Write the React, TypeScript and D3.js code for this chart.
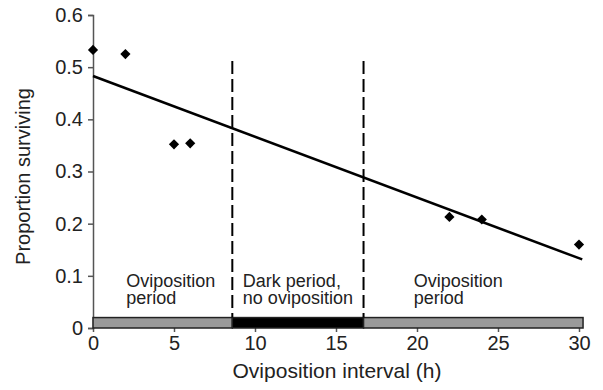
import { useEffect, useRef } from "react";
import * as d3 from "d3";

// observed points
const hours = [0, 2, 5, 6, 22, 24, 30];
const surviving = [0.533, 0.525, 0.352, 0.354, 0.213, 0.208, 0.16];

// periods along the bottom bar: [start, end, dark?]
const periodStart = [0, 8.6, 16.7];
const periodEnd = [8.6, 16.7, 30.25];
const periodDark = [false, true, false];
const periodLabels = [
  ["Oviposition", "period"],
  ["Dark period,", "no oviposition"],
  ["Oviposition", "period"],
];
const labelAt = [2.05, 9.25, 19.8];

const xTicks = [0, 5, 10, 15, 20, 25, 30];
const yTicks = [0, 0.1, 0.2, 0.3, 0.4, 0.5, 0.6];

const W = 603;
const H = 390;
const FONT = "Liberation Sans, Arial, Helvetica, sans-serif";

function App() {
  const svgRef = useRef<SVGSVGElement>(null);

  useEffect(() => {
    const svg = d3.select(svgRef.current);
    svg.selectAll("*").remove();

    const x = d3.scaleLinear().domain([0, 30]).range([93, 579]);
    const y = d3.scaleLinear().domain([0, 0.6]).range([328, 15]);

    // least squares fit
    const mx = d3.mean(hours)!;
    const my = d3.mean(surviving)!;
    const sxy = d3.sum(hours, (h, i) => (h - mx) * (surviving[i] - my));
    const sxx = d3.sum(hours, (h) => (h - mx) ** 2);
    const slope = sxy / sxx;
    const icpt = my - slope * mx;

    // y axis
    const yAxis = svg
      .append("g")
      .attr("transform", `translate(${x(0)},0)`)
      .call(
        d3
          .axisLeft(y)
          .tickValues(yTicks)
          .tickSize(5)
          .tickPadding(5)
          .tickFormat((d) => (d === 0 ? "0" : d3.format(".1f")(d as number)))
      );
    yAxis.select(".domain").attr("stroke", "#555").attr("stroke-width", 1.5);
    yAxis.selectAll("line").attr("stroke", "#555").attr("stroke-width", 1.5);
    yAxis
      .selectAll("text")
      .attr("font-family", FONT)
      .attr("font-size", 20)
      .attr("fill", "#222");

    // x axis
    const xAxis = svg
      .append("g")
      .attr("transform", `translate(0,${y(0)})`)
      .call(
        d3.axisBottom(x).tickValues(xTicks).tickSize(4).tickPadding(4).tickSizeOuter(0)
      );
    xAxis.select(".domain").remove();
    xAxis.selectAll("line").attr("stroke", "#555").attr("stroke-width", 1.5);
    xAxis
      .selectAll("text")
      .attr("font-family", FONT)
      .attr("font-size", 20)
      .attr("fill", "#222");

    // period bar
    const barTop = y(0.02);
    svg
      .append("g")
      .selectAll("rect")
      .data(periodStart)
      .join("rect")
      .attr("x", (d) => x(d))
      .attr("y", barTop)
      .attr("width", (d, i) => x(periodEnd[i]) - x(d))
      .attr("height", y(0) - barTop)
      .attr("fill", (_, i) => (periodDark[i] ? "#000" : "#9a9a9a"))
      .attr("stroke", "#222")
      .attr("stroke-width", 1.5);

    // dashed separators
    svg
      .append("g")
      .selectAll("line")
      .data(periodStart.slice(1))
      .join("line")
      .attr("x1", (d) => x(d))
      .attr("x2", (d) => x(d))
      .attr("y1", 61)
      .attr("y2", barTop)
      .attr("stroke", "#000")
      .attr("stroke-width", 2)
      .attr("stroke-dasharray", "13,5");

    // period labels
    const lab = svg
      .append("g")
      .selectAll("text")
      .data(periodLabels)
      .join("text")
      .attr("x", (_, i) => x(labelAt[i]))
      .attr("y", 287)
      .attr("font-family", FONT)
      .attr("font-size", 18)
      .attr("fill", "#222");
    lab
      .selectAll("tspan")
      .data((d) => d)
      .join("tspan")
      .attr("x", function () {
        return (this.parentNode as SVGTextElement).getAttribute("x");
      })
      .attr("dy", (_, j) => (j === 0 ? 0 : 17))
      .text((d) => d);

    // regression line
    svg
      .append("line")
      .attr("x1", x(0))
      .attr("y1", y(icpt))
      .attr("x2", x(30.2))
      .attr("y2", y(icpt + slope * 30.2))
      .attr("stroke", "#000")
      .attr("stroke-width", 2.5);

    // points
    svg
      .append("g")
      .selectAll("path")
      .data(hours)
      .join("path")
      .attr("d", d3.symbol(d3.symbolSquare, 52)())
      .attr(
        "transform",
        (d, i) => `translate(${x(d)},${y(surviving[i])}) rotate(45)`
      )
      .attr("fill", "#000");

    // axis titles
    svg
      .append("text")
      .attr("x", (x(0) + x(30)) / 2 + 1)
      .attr("y", 378)
      .attr("text-anchor", "middle")
      .attr("font-family", FONT)
      .attr("font-size", 21)
      .attr("fill", "#222")
      .text("Oviposition interval (h)");

    svg
      .append("text")
      .attr("transform", `translate(30,${(y(0) + y(0.6)) / 2 + 5}) rotate(-90)`)
      .attr("text-anchor", "middle")
      .attr("font-family", FONT)
      .attr("font-size", 20)
      .attr("fill", "#222")
      .text("Proportion surviving");
  }, []);

  return (
    <svg
      ref={svgRef}
      width={W}
      height={H}
      style={{ position: "absolute", left: 0, top: 0, background: "#fff" }}
    />
  );
}

export default App;
